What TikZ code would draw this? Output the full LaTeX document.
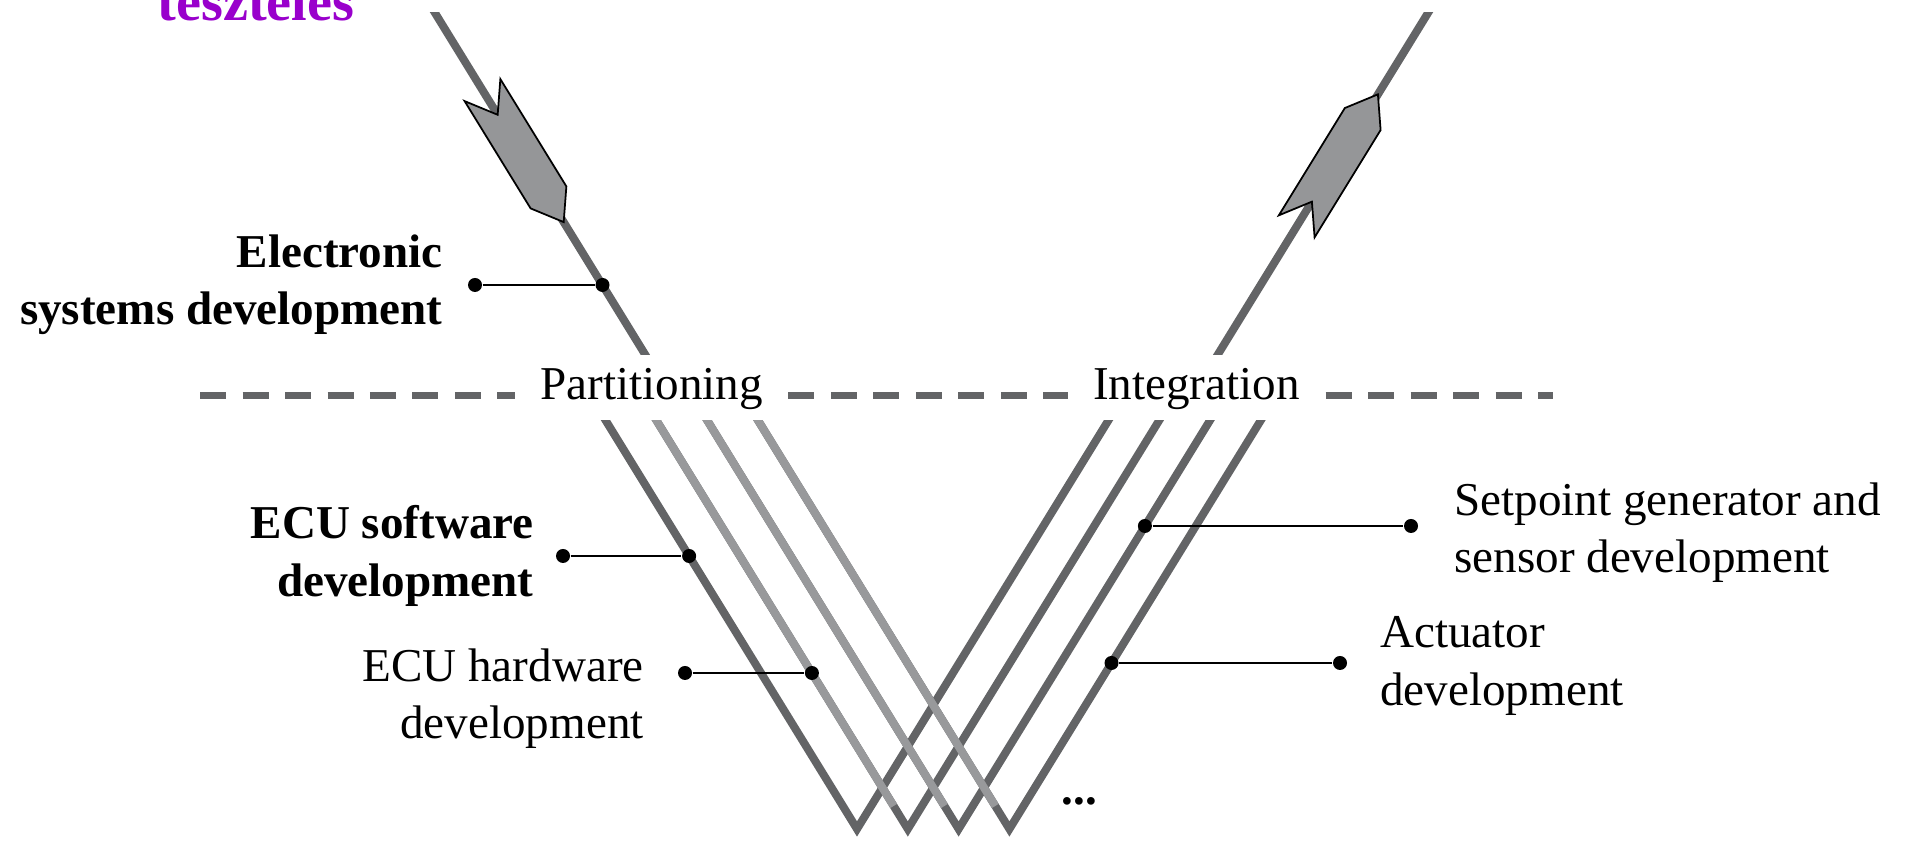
\documentclass[tikz,border=0pt]{standalone}
\usepackage{fontspec}
\setmainfont{Liberation Serif}
\usetikzlibrary{positioning,calc}

\definecolor{vgray}{RGB}{99,100,102}
\definecolor{vlight}{RGB}{152,153,155}
\definecolor{afill}{RGB}{149,150,152}
\definecolor{tpurple}{RGB}{153,0,204}

\tikzset{
  varm/.style={vgray, line width=0.08cm},
  vlite/.style={vlight, line width=0.08cm},
  divider/.style={vgray, line width=0.07cm, dash pattern=on 0.26cm off 0.165cm},
  leader/.style={black, line width=0.8pt},
  dot/.style={circle, fill=black, inner sep=0pt, minimum size=0.14cm},
  phase/.style={font=\fontsize{13.4}{16.3}\selectfont, inner xsep=0.25cm, inner ysep=0pt},
  lbl/.style={font=\fontsize{13.4}{16.3}\selectfont, inner sep=0pt},
  lblbold/.style={lbl, font=\fontsize{13.4}{16.3}\selectfont\bfseries},
  flowarrow/.pic={
    \draw[black, line width=0.5pt, fill=afill] (0,0) -- (-0.29,0.21) -- (-1.55,0.21)
      -- (-1.26,0) -- (-1.55,-0.21) -- (-0.29,-0.21) -- cycle;
  }
}

\begin{document}
\begin{tikzpicture}
\useasboundingbox (0,0) rectangle (19.08,8.41);

% heading, cut by the top edge
\node[anchor=base east, inner sep=0pt, text=tpurple, font=\fontsize{16}{19}\selectfont\bfseries] (title) at (3.55,8.20) {tesztelés};

% system level V, only the two arms
\coordinate (sysV) at (9.315,0.21);
\begin{scope}
\clip (0,4.86) rectangle (19.08,8.28);
\draw[varm] (sysV) -- ++(121.6:10.5);
\draw[varm] (sysV) -- ++(58.4:10.5);
\end{scope}
\pic[rotate=-58.4] at ($(sysV)+(121.6:7.02)$) {flowarrow};
\pic[rotate=58.4] at ($(sysV)+(58.4:8.52)$) {flowarrow};

% dashed divider with the two phase names
\coordinate (divL) at (2.00,4.45);
\coordinate (divR) at (15.53,4.45);
\node[phase, anchor=base] (part) at (6.515,4.41) {Partitioning};
\node[phase, anchor=base] (integ) at (11.965,4.41) {Integration};
\draw[divider] (divL) -- (divL -| part.west);
\draw[divider] (divL -| part.east) -- (divL -| integ.west);
\draw[divider] (divL -| integ.east) -- (divR);

% component level Vs
\begin{scope}
\clip (0,0) rectangle (19.08,4.205);
\foreach \i in {0,...,3} {
  \coordinate (v\i) at ({8.57+0.508*\i},0.12);
  \draw[varm] ($(v\i)+(121.6:5)$) -- (v\i) -- ($(v\i)+(58.4:5)$);
}
\foreach \i in {1,2,3}
  \draw[vlite] ($(v\i)+(121.6:0.27)$) -- ($(v\i)+(121.6:5)$);
\end{scope}
\node[lblbold, anchor=base] (more) at (10.795,0.36) {...};

% leaders to the arms
\node[dot] (esdA) at (4.75,5.56) {};
\node[dot] (esdB) at (6.025,5.56) {};
\draw[leader] (esdA) -- (esdB);
\node[lblbold, left=0.24cm of esdA, align=right] (esdLbl) {Electronic\\systems development};

\node[dot] (swA) at (5.63,2.85) {};
\node[dot] (swB) at (6.891,2.85) {};
\draw[leader] (swA) -- (swB);
\node[lblbold, left=0.21cm of swA, align=right] (swLbl) {ECU software\\development};

\node[dot] (hwA) at (6.85,1.68) {};
\node[dot] (hwB) at (8.119,1.68) {};
\draw[leader] (hwA) -- (hwB);
\node[lbl, left=0.33cm of hwA, yshift=-0.26cm, align=right] (hwLbl) {ECU hardware\\development};

\node[dot] (spA) at (11.449,3.15) {};
\node[dot] (spB) at (14.11,3.15) {};
\draw[leader] (spA) -- (spB);
\node[lbl, right=0.35cm of spB, yshift=-0.07cm, align=left] (spLbl) {Setpoint generator and\\sensor development};

\node[dot] (actA) at (11.115,1.78) {};
\node[dot] (actB) at (13.40,1.78) {};
\draw[leader] (actA) -- (actB);
\node[lbl, right=0.32cm of actB, yshift=-0.03cm, align=left] (actLbl) {Actuator\\development};

\end{tikzpicture}
\end{document}
